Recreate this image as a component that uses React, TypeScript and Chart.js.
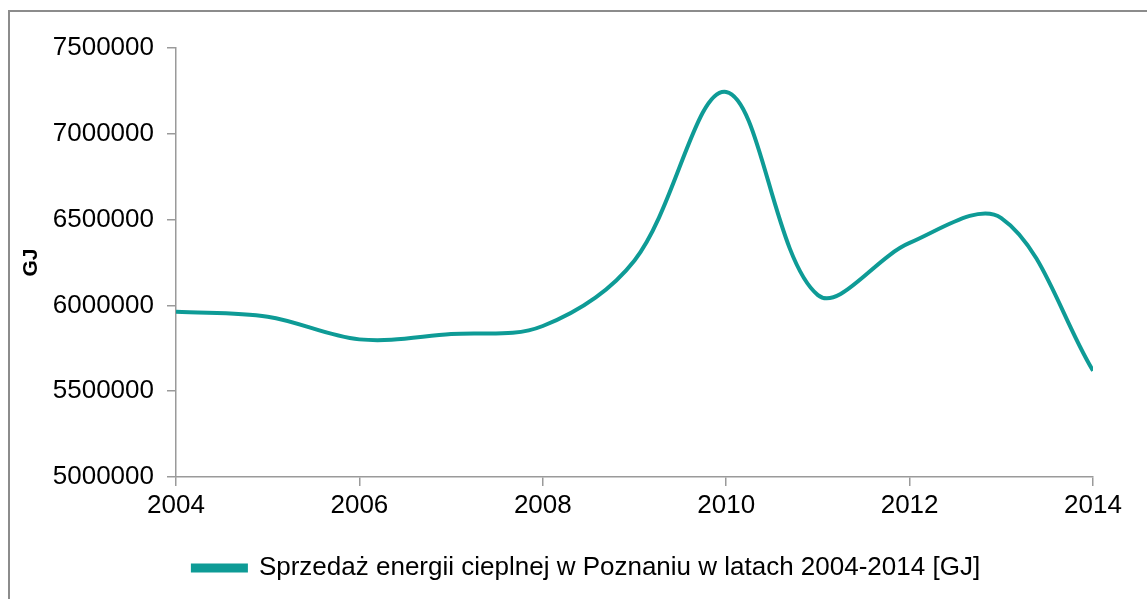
import React, { useEffect, useRef } from "react";
import { Chart, registerables } from "chart.js";

Chart.register(...registerables);

const years: number[] = [2004, 2005, 2006, 2007, 2008, 2009, 2010, 2011, 2012, 2013, 2014];
const values: number[] = [5963000, 5934000, 5802000, 5833000, 5880000, 6262000, 7244000, 6060000, 6364000, 6509000, 5619000];
const seriesLabel = "Sprzedaż energii cieplnej w Poznaniu w latach 2004-2014 [GJ]";
const yTitle = "GJ";
const xMin = 2004, xMax = 2014, xStep = 2;
const yMin = 5000000, yMax = 7500000, yStep = 500000;

const TEAL = "#0E9B96";
const AXIS = "#9a9a9a";
const FONT = "'Liberation Sans', Arial, sans-serif";

const shiftLegend = {
  id: "shiftLegend",
  afterLayout(chart: any) {
    const lg = chart.legend;
    if (lg) {
      lg.left += 40;
      lg.right += 40;
    }
  },
};

export default function App() {
  const ref = useRef<HTMLCanvasElement>(null);
  useEffect(() => {
    if (!ref.current) return;
    const chart = new Chart(ref.current, {
      type: "line",
      data: {
        datasets: [
          {
            label: seriesLabel,
            data: years.map((y, i) => ({ x: y, y: values[i] })),
            borderColor: TEAL,
            backgroundColor: TEAL,
            borderWidth: 4,
            pointRadius: 0,
            tension: 0.35,
            fill: false,
          },
        ],
      },
      plugins: [shiftLegend],
      options: {
        responsive: false,
        animation: false,
        layout: { padding: { left: 0, top: 48, right: 54, bottom: 8 } },
        plugins: {
          tooltip: { enabled: false },
          legend: {
            position: "bottom",
            labels: {
              boxWidth: 53,
              boxHeight: 5,
              padding: 8,
              color: "#000",
              font: { family: FONT, size: 26 },
            },
          },
        },
        scales: {
          x: {
            type: "linear",
            min: xMin,
            max: xMax,
            afterFit: (s: any) => { s.height = 70; },
            border: { display: true, color: AXIS, width: 1.5 },
            grid: { display: true, drawOnChartArea: false, drawTicks: true, tickLength: 9, color: AXIS, lineWidth: 1.5 },
            ticks: {
              stepSize: xStep,
              padding: 4,
              color: "#000",
              font: { family: FONT, size: 26 },
              maxRotation: 0,
              callback: (v: any) => String(v),
            },
          },
          y: {
            min: yMin,
            max: yMax,
            afterFit: (s: any) => { s.width = 176; },
            border: { display: true, color: AXIS, width: 1.5 },
            grid: { display: true, drawOnChartArea: false, drawTicks: true, tickLength: 9, color: AXIS, lineWidth: 1.5 },
            title: {
              display: true,
              text: yTitle,
              color: "#000",
              font: { family: FONT, size: 21, weight: "bold" },
              padding: { top: 19, bottom: 0 },
            },
            ticks: {
              stepSize: yStep,
              padding: 13,
              color: "#000",
              font: { family: FONT, size: 26 },
              callback: (v: any) => String(v),
            },
          },
        },
      },
    });
    return () => chart.destroy();
  }, []);

  return (
    <div style={{ position: "relative", width: 1147, height: 599, overflow: "hidden" }}>
      <style>{"body{margin:0;overflow:hidden;background:#fff}"}</style>
      <div
        style={{
          position: "absolute",
          left: 8,
          top: 10,
          width: 1160,
          height: 620,
          borderLeft: "2px solid #8c8c8c",
          borderTop: "2px solid #8c8c8c",
        }}
      />
      <canvas ref={ref} width={1147} height={599} style={{ position: "absolute", left: 0, top: 0, display: "block" }} />
    </div>
  );
}
